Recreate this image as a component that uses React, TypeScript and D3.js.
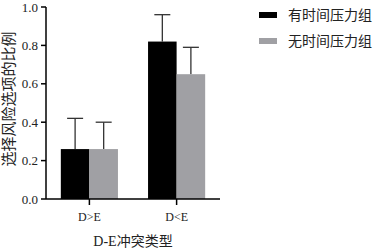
import React from 'react';
import * as d3 from 'd3';

const categories = ['D>E', 'D<E'];
const seriesNames = ['有时间压力组', '无时间压力组'];
const withPressure = [0.26, 0.82];
const withPressureErr = [0.16, 0.14];
const noPressure = [0.26, 0.65];
const noPressureErr = [0.14, 0.14];
const yTicks = [0, 0.2, 0.4, 0.6, 0.8, 1.0];

const colors = ['#000000', '#a0a0a4'];
const latin = "'Liberation Serif', 'DejaVu Serif', 'Noto Sans CJK SC', serif";

const App = () => {
  const left = 46;
  const right = 220;
  const top = 7;
  const bottom = 199;

  const y = d3.scaleLinear().domain([0, 1]).range([bottom, top]);
  const x = d3.scaleBand().domain(categories).range([left, right]).paddingInner(0.345).paddingOuter(0.17);
  const inner = d3.scaleBand().domain(['0', '1']).range([0, x.bandwidth()]);

  const series = [
    { vals: withPressure, errs: withPressureErr },
    { vals: noPressure, errs: noPressureErr },
  ];

  return (
    <svg width={375} height={249} style={{ position: 'absolute', left: 0, top: 0, background: '#fff' }}>
      {/* bars */}
      {series.map((s, si) =>
        categories.map((c, ci) => {
          const bx = (x(c) ?? 0) + (inner(String(si)) ?? 0);
          const bw = inner.bandwidth();
          const cx = bx + bw / 2;
          const v = s.vals[ci];
          const e = s.errs[ci];
          return (
            <g key={`${si}-${ci}`}>
              <line x1={cx} x2={cx} y1={y(v)} y2={y(v + e)} stroke="#333" strokeWidth={1.3} />
              <line x1={cx - 8} x2={cx + 8} y1={y(v + e)} y2={y(v + e)} stroke="#333" strokeWidth={1.3} />
              <rect x={bx} y={y(v)} width={bw} height={bottom - y(v)} fill={colors[si]} />
            </g>
          );
        })
      )}

      {/* y axis */}
      <line x1={left} x2={left} y1={top} y2={bottom} stroke="#000" strokeWidth={1.5} />
      {yTicks.map((t) => (
        <g key={t}>
          <line x1={left - 5} x2={left} y1={y(t)} y2={y(t)} stroke="#000" strokeWidth={1.5} />
          <text x={left - 8} y={y(t)} dy="0.35em" textAnchor="end" fontFamily={latin} fontSize={13} fill="#222">
            {t.toFixed(1)}
          </text>
        </g>
      ))}

      {/* x axis */}
      <line x1={left} x2={right} y1={bottom} y2={bottom} stroke="#000" strokeWidth={1.5} />
      {categories.map((c) => {
        const cx = (x(c) ?? 0) + x.bandwidth() / 2;
        return (
          <g key={c}>
            <line x1={cx} x2={cx} y1={bottom} y2={bottom + 6} stroke="#000" strokeWidth={1.5} />
            <text x={cx} y={221} textAnchor="middle" fontFamily={latin} fontSize={12} fill="#222">
              {c}
            </text>
          </g>
        );
      })}

      <text x={133} y={246} textAnchor="middle" fontFamily={latin} fontSize={14} fill="#222">
        D-E冲突类型
      </text>
      <text
        transform="translate(14, 99) rotate(-90)"
        textAnchor="middle"
        fontFamily={latin}
        fontSize={15}
        fill="#222"
      >
        选择风险选项的比例
      </text>

      {/* legend */}
      {seriesNames.map((n, i) => (
        <g key={n} transform={`translate(259, ${15 + i * 26})`}>
          <rect x={0} y={-3} width={18} height={6} fill={colors[i]} />
          <text x={29} y={0} dy="0.35em" fontFamily={latin} fontSize={14} fill="#222">
            {n}
          </text>
        </g>
      ))}
    </svg>
  );
};

export default App;
